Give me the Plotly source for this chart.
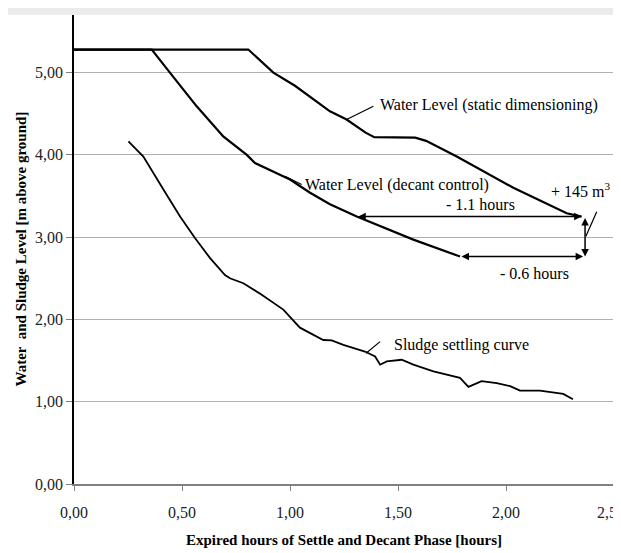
import plotly.graph_objects as go

# ---- data ----
static_x = [0.0, 0.807, 0.923, 1.023, 1.185, 1.262, 1.35, 1.39, 1.58, 1.63, 1.772, 2.034, 2.281, 2.35]
static_y = [5.28, 5.28, 5.0, 4.84, 4.53, 4.43, 4.27, 4.215, 4.21, 4.17, 3.98, 3.60, 3.29, 3.25]

decant_x = [0.0, 0.36, 0.444, 0.568, 0.691, 0.80, 0.838, 0.954, 1.0, 1.093, 1.185, 1.309, 1.571, 1.787]
decant_y = [5.28, 5.28, 5.0, 4.59, 4.225, 4.0, 3.90, 3.76, 3.70, 3.54, 3.40, 3.25, 2.97, 2.765]

sludge_x = [0.252, 0.306, 0.321, 0.414, 0.491, 0.56, 0.63, 0.699, 0.722, 0.784, 0.869, 0.969,
            1.046, 1.154, 1.193, 1.247, 1.347, 1.394, 1.417, 1.448, 1.517, 1.571, 1.664, 1.787,
            1.803, 1.826, 1.887, 1.957, 2.019, 2.065, 2.157, 2.265, 2.31]
sludge_y = [4.165, 4.02, 3.98, 3.58, 3.25, 2.99, 2.745, 2.54, 2.50, 2.44, 2.30, 2.12,
            1.90, 1.75, 1.745, 1.69, 1.61, 1.55, 1.45, 1.49, 1.51, 1.45, 1.37, 1.29,
            1.245, 1.18, 1.25, 1.225, 1.19, 1.135, 1.135, 1.095, 1.03]

x_tickvals = [0, 0.5, 1.0, 1.5, 2.0, 2.5]
x_ticktext = ["0,00", "0,50", "1,00", "1,50", "2,00", ""]
x_last_label = "2,5"
y_tickvals = [0, 1, 2, 3, 4, 5]
y_ticktext = ["0,00", "1,00", "2,00", "3,00", "4,00", "5,00"]

# labels: (text, x, y, xanchor)
labels = [
    ("Water Level (static dimensioning)", 1.407, 4.61, "left"),
    ("Water Level (decant control)", 1.06, 3.64, "left"),
    ("Sludge settling curve", 1.472, 1.69, "left"),
    ("- 1.1 hours", 1.88, 3.40, "center"),
    ("- 0.6 hours", 2.134, 2.56, "center"),
    ("+ 145 m<sup>3</sup>", 2.343, 3.57, "center"),
]
# pointer lines: (x0, y0, x1, y1)
pointers = [
    (1.262, 4.43, 1.386, 4.59),
    (0.977, 3.74, 1.054, 3.64),
    (1.352, 1.59, 1.417, 1.73),
    (2.42, 3.31, 2.37, 3.01),
]
# double arrows: (x0, y0, x1, y1)
arrows = [
    (1.309, 3.25, 2.35, 3.25),
    (1.787, 2.765, 2.357, 2.765),
    (2.366, 3.25, 2.366, 2.765),
]

FONT = "Liberation Serif, Times New Roman, Times, serif"

fig = go.Figure()
fig.add_trace(go.Scatter(x=static_x, y=static_y, mode="lines",
                         line=dict(color="black", width=2.2), showlegend=False))
fig.add_trace(go.Scatter(x=decant_x, y=decant_y, mode="lines",
                         line=dict(color="black", width=2.2), showlegend=False))
fig.add_trace(go.Scatter(x=sludge_x, y=sludge_y, mode="lines",
                         line=dict(color="black", width=1.8), showlegend=False))

for (x0, y0, x1, y1) in pointers:
    fig.add_shape(type="line", x0=x0, y0=y0, x1=x1, y1=y1,
                  line=dict(color="black", width=1.2))

for (x0, y0, x1, y1) in arrows:
    fig.add_annotation(x=x1, y=y1, ax=x0, ay=y0, xref="x", yref="y", axref="x", ayref="y",
                       text="", showarrow=True, arrowhead=2, startarrowhead=2,
                       arrowside="end+start", arrowsize=1, startarrowsize=1,
                       arrowwidth=1.5, arrowcolor="black")

for (t, x, y, xa) in labels:
    fig.add_annotation(x=x, y=y, xref="x", yref="y", text=t, showarrow=False,
                       xanchor=xa, yanchor="middle",
                       font=dict(family=FONT, size=16, color="black"))

# last x tick label (cut by the right edge in the reference)
fig.add_annotation(x=x_tickvals[-1], y=0, xref="x", yref="paper", yshift=-28, xshift=5,
                   text=x_last_label, showarrow=False, xanchor="right", yanchor="middle",
                   font=dict(family=FONT, size=16, color="#222222"))

# axis titles
fig.add_annotation(x=0.5, y=-0.119, xref="paper", yref="paper",
                   text="<b>Expired hours of Settle and Decant Phase [hours]</b>",
                   showarrow=False, xanchor="center", yanchor="middle",
                   font=dict(family=FONT, size=15, color="black"))
fig.add_annotation(x=-0.1, y=0.5, xref="paper", yref="paper",
                   text="<b>Water  and Sludge Level [m above ground]</b>",
                   textangle=-90, showarrow=False, xanchor="center", yanchor="middle",
                   font=dict(family=FONT, size=15, color="black"))

# right border
fig.add_shape(type="line", xref="paper", yref="paper", x0=1, x1=1, y0=0, y1=1,
              line=dict(color="#999999", width=1.5))
# gray band at top
fig.add_shape(type="rect", xref="paper", yref="paper", x0=-0.125, x1=1.03,
              y0=1.0, y1=1.016, fillcolor="#ebebeb", line=dict(width=0), layer="below")

fig.update_xaxes(range=[0, 2.5], tickvals=x_tickvals, ticktext=x_ticktext,
                 showgrid=False, zeroline=False, showline=True, linecolor="#808080",
                 linewidth=2, ticks="outside", ticklen=5, tickcolor="#808080",
                 ticklabelstandoff=8,
                 tickfont=dict(family=FONT, size=16, color="#222222"))
fig.update_yaxes(range=[0, 5.7], tickvals=y_tickvals, ticktext=y_ticktext,
                 showgrid=True, gridcolor="#b0b0b0", gridwidth=1, zeroline=False,
                 showline=True, linecolor="black", linewidth=1.5,
                 ticks="outside", ticklen=6, tickcolor="#808080",
                 tickfont=dict(family=FONT, size=16, color="#222222"))

# page body has an 8px margin: size the figure so the plot area lands where the reference has it
fig.update_layout(width=613, height=545, margin=dict(l=66, r=7, t=7, b=69),
                  plot_bgcolor="white", paper_bgcolor="white", showlegend=False)

fig.write_html("out.html")
